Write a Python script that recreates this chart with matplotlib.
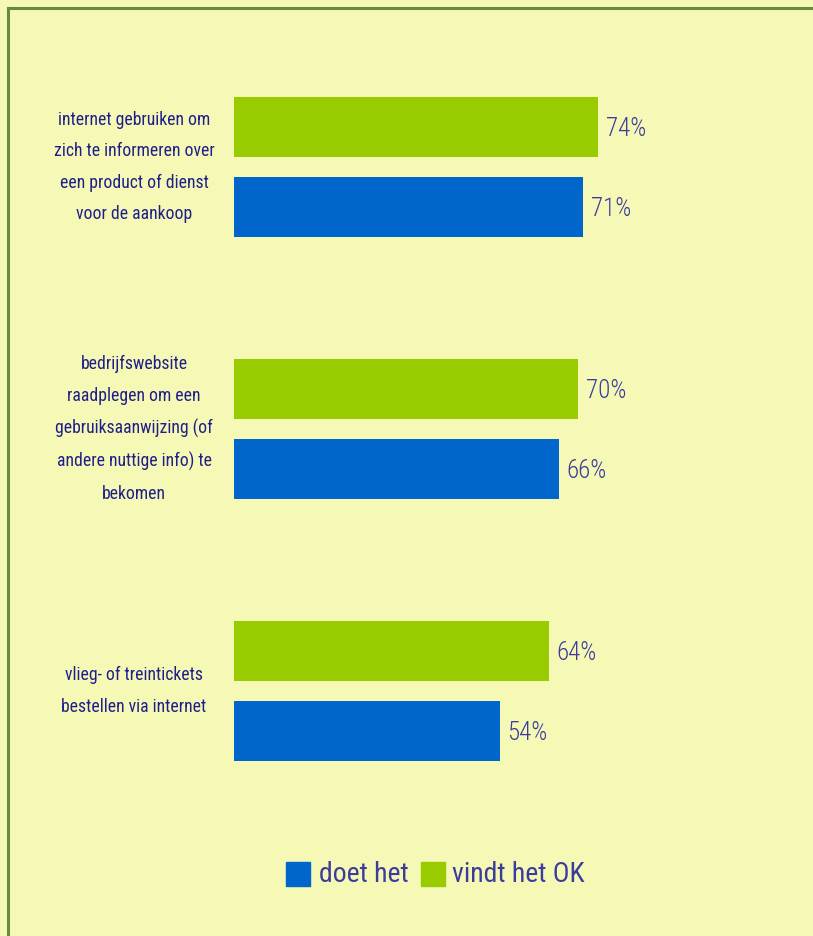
import matplotlib
matplotlib.use("Agg")
from matplotlib import pyplot as plt, font_manager
from matplotlib.patches import Rectangle
import numpy as np

categories = [
    "internet gebruiken om\nzich te informeren over\neen product of dienst\nvoor de aankoop",
    "bedrijfswebsite\nraadplegen om een\ngebruiksaanwijzing (of\nandere nuttige info) te\nbekomen",
    "vlieg- of treintickets\nbestellen via internet",
]
vindt_het_ok = [74, 70, 64]
doet_het = [71, 66, 54]
series_names = ["doet het", "vindt het OK"]

BG = "#f6f8b6"
GREEN = "#99cc00"
BLUE = "#0066cc"
TEXT = "#1f1f8a"
VALUE = "#3c3c9c"
BORDER = "#6b8a3a"

# pick a narrow face if the system has one
names = {f.name for f in font_manager.fontManager.ttflist}
narrow = [n for n in ["Liberation Sans Narrow", "Roboto Condensed", "Open Sans Condensed"] if n in names]
family = narrow + ["DejaVu Sans"]
plt.rcParams["font.family"] = family

fig = plt.figure(figsize=(8.13, 9.36), dpi=100, facecolor=BG)

# olive frame on the left and top
fig.add_artist(plt.Line2D([7.5 / 813, 7.5 / 813], [0, 1 - 7.5 / 936], color=BORDER, lw=2.2))
fig.add_artist(plt.Line2D([7.5 / 813, 1], [1 - 7.5 / 936, 1 - 7.5 / 936], color=BORDER, lw=2.2))

ax = fig.add_axes([234 / 813, 1 - 822 / 936, 500 / 813, 786 / 936])
ax.set_facecolor(BG)
y = np.arange(len(categories))
h = 60 / 262
off = 40 / 262
ax.barh(y - off, vindt_het_ok, height=h, color=GREEN)
ax.barh(y + off, doet_het, height=h, color=BLUE)
ax.set_xlim(0, 500 / 4.92)
ax.set_ylim(2.5, -0.5)
ax.axis("off")

for yi, v in zip(y - off, vindt_het_ok):
    ax.text(v + 1.6, yi + 0.008, f"{v}%", va="center", ha="left", fontsize=18, color=VALUE,
            fontweight="light")
for yi, v in zip(y + off, doet_het):
    ax.text(v + 1.6, yi + 0.008, f"{v}%", va="center", ha="left", fontsize=18, color=VALUE,
            fontweight="light")

for yi, lab in zip(y, categories):
    ax.text(-20.3, yi, lab, ha="center", va="center", fontsize=12.7,
            color=TEXT, linespacing=1.95)

# legend along the bottom
leg_y = 1 - 874 / 936
sq_w, sq_h = 24 / 813, 24 / 936
fig.add_artist(Rectangle((286 / 813, leg_y - sq_h / 2), sq_w, sq_h, color=BLUE, transform=fig.transFigure))
fig.text(319 / 813, leg_y, series_names[0], va="center", ha="left", fontsize=20, color=VALUE)
fig.add_artist(Rectangle((421 / 813, leg_y - sq_h / 2), sq_w, sq_h, color=GREEN, transform=fig.transFigure))
fig.text(452 / 813, leg_y, series_names[1], va="center", ha="left", fontsize=20, color=VALUE)

fig.savefig("out.png", dpi=100, facecolor=BG)
